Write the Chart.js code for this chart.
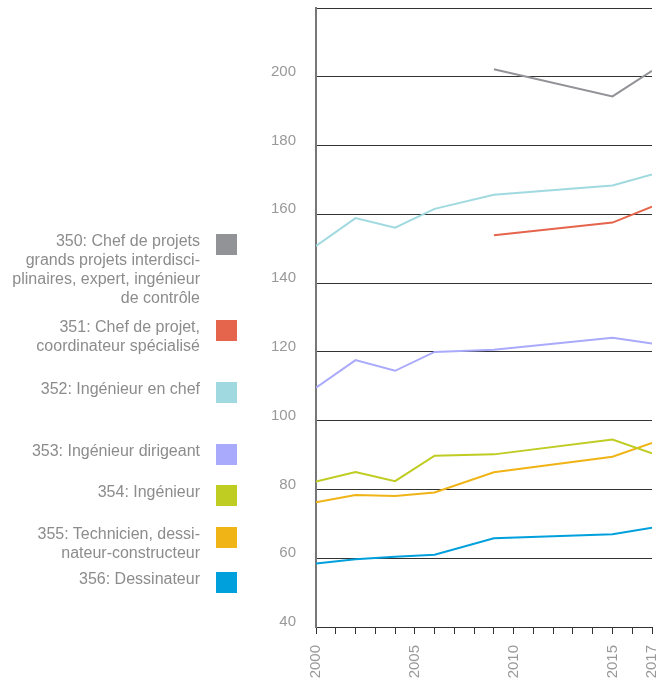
<!DOCTYPE html>
<html>
<head>
<meta charset="utf-8">
<script src="https://cdn.jsdelivr.net/npm/chart.js@4.4.1/dist/chart.umd.min.js"></script>
<style>
  body { margin: 0; background: #fff; }
  #wrap { position: relative; width: 672px; height: 684px; }
  #chart { position: absolute; left: 0; top: 0; }
  .item { position: absolute; left: 0; width: 237px; }
  .item .txt {
    position: absolute; right: 37px; width: 260px; text-align: right;
    font-family: "Liberation Sans", Arial, sans-serif; font-size: 16px;
    line-height: 19px; color: #8c8c8c; white-space: pre-line;
  }
  .item .sq { position: absolute; left: 216px; width: 21px; height: 21px; }
</style>
</head>
<body>
<div id="wrap">
  <canvas id="chart" width="672" height="684"></canvas>
  <div id="legend"></div>
</div>
<script>
// survey years
const years = [2000, 2002, 2004, 2006, 2009, 2015, 2017];
const yearLabels = [2000, 2005, 2010, 2015, 2017];

const seriesNames = [
  '350: Chef de projets\ngrands projets interdisci-\nplinaires, expert, ingénieur\nde contrôle',
  '351: Chef de projet,\ncoordinateur spécialisé',
  '352: Ingénieur en chef',
  '353: Ingénieur dirigeant',
  '354: Ingénieur',
  '355: Technicien, dessi-\nnateur-constructeur',
  '356: Dessinateur'
];
const seriesColors = ['#929397', '#e5654c', '#a0dae0', '#a9aafb', '#bfcc22', '#f0b416', '#00a0dc'];

const v350 = [null, null, null, null, 202.2, 194.3, 201.7];
const v351 = [null, null, null, null, 153.9, 157.6, 162.2];
const v352 = [150.8, 158.9, 156.1, 161.6, 165.7, 168.4, 171.6];
const v353 = [109.6, 117.6, 114.5, 120.0, 120.6, 124.1, 122.4];
const v354 = [82.3, 85.1, 82.4, 89.8, 90.2, 94.5, 90.5];
const v355 = [76.3, 78.4, 78.1, 79.1, 85.0, 89.5, 93.5];
const v356 = [58.5, 59.7, 60.4, 61.0, 65.8, 67.0, 68.9];
const allValues = [v350, v351, v352, v353, v354, v355, v356];

// legend rows (top of each square, px)
const legendTops = [234, 320, 382, 444, 485, 527, 572];

const legend = document.getElementById('legend');
seriesNames.forEach(function(name, i) {
    const item = document.createElement('div');
    item.className = 'item';
    item.style.top = legendTops[i] + 'px';
    const txt = document.createElement('div');
    txt.className = 'txt';
    txt.style.top = '-3px';
    txt.textContent = name;
    const sq = document.createElement('div');
    sq.className = 'sq';
    sq.style.background = seriesColors[i];
    item.appendChild(txt);
    item.appendChild(sq);
    legend.appendChild(item);
});

const datasets = allValues.map(function(vals, i) {
    return {
        label: seriesNames[i],
        data: years.map((yr, j) => ({ x: yr, y: vals[j] })),
        borderColor: seriesColors[i],
        backgroundColor: seriesColors[i],
        borderWidth: 2,
        pointRadius: 0,
        tension: 0,
        fill: false
    };
});

Chart.defaults.font.family = '"Liberation Sans", Arial, sans-serif';

new Chart(document.getElementById('chart').getContext('2d'), {
    type: 'line',
    data: { datasets: datasets },
    options: {
        responsive: false,
        animation: false,
        layout: { padding: { left: 250, right: 20, top: 8, bottom: 0 } },
        plugins: {
            legend: { display: false },
            tooltip: { enabled: false }
        },
        scales: {
            x: {
                type: 'linear',
                min: 2000,
                max: 2017,
                afterFit: function(s) {
                    s.height = 57;
                    s.paddingLeft = 0;
                    s.paddingRight = 0;
                },
                ticks: {
                    stepSize: 1,
                    autoSkip: false,
                    minRotation: 90,
                    maxRotation: 90,
                    padding: 11,
                    color: '#999',
                    font: { size: 15 },
                    callback: v => yearLabels.includes(v) ? String(v) : ''
                },
                grid: { drawOnChartArea: false, drawTicks: true, tickLength: 7, color: '#333' },
                border: { color: '#333', width: 1 }
            },
            y: {
                min: 40,
                max: 220,
                afterFit: function(s) {
                    s.width = 66;
                    s.paddingTop = 0;
                    s.paddingBottom = 0;
                },
                ticks: {
                    stepSize: 20,
                    padding: 20,
                    labelOffset: -5,
                    color: '#999',
                    font: { size: 15 },
                    callback: v => v === 220 ? '' : v
                },
                grid: { color: '#333', drawTicks: false, lineWidth: 1 },
                border: { color: '#777', width: 2 }
            }
        }
    }
});
</script>
</body>
</html>
